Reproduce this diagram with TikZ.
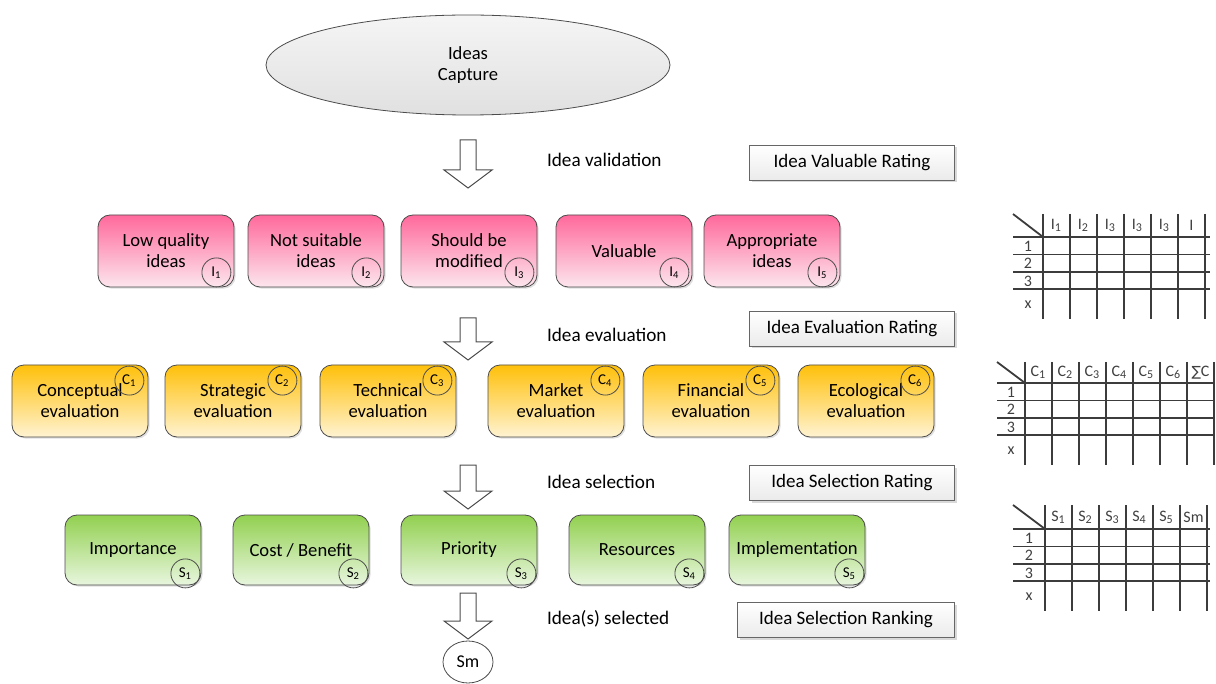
\documentclass[tikz,border=0pt]{standalone}
\usepackage{fontspec}
\setmainfont{Carlito}
\newfontfamily\symfont{DejaVu Sans}
\usetikzlibrary{shadows,shapes.geometric}
\definecolor{pinktop}{RGB}{255,105,155}
\definecolor{pinkbot}{RGB}{252,230,238}
\definecolor{orangetop}{RGB}{255,192,10}
\definecolor{orangebot}{RGB}{255,243,210}
\definecolor{greentop}{RGB}{146,208,80}
\definecolor{greenbot}{RGB}{232,246,222}
\definecolor{gridgray}{RGB}{60,60,60}
\tikzset{
  stagebox/.style = {draw=black!70, rounded corners=6pt, minimum width=68pt,
    minimum height=36pt, align=center, font=\fontsize{9.3}{10.5}\selectfont,
    drop shadow={opacity=0.25, shadow xshift=0.8pt, shadow yshift=-0.8pt}},
  pinkbox/.style = {stagebox, top color=pinktop, bottom color=pinkbot},
  orangebox/.style = {stagebox, top color=orangetop, bottom color=orangebot},
  greenbox/.style = {stagebox, minimum height=35pt, top color=greentop, bottom color=greenbot},
  tag/.style = {draw=black!70, circle, minimum size=14.5pt, inner sep=0pt,
    font=\fontsize{7.5}{8}\selectfont},
  ratebox/.style = {draw=black!60, minimum width=102.5pt, minimum height=17.5pt,
    top color=white, bottom color=black!8, font=\fontsize{9.5}{10}\selectfont,
    drop shadow={opacity=0.3, shadow xshift=1pt, shadow yshift=-1pt}},
  steptext/.style = {anchor=west, font=\fontsize{9.6}{10}\selectfont},
  blockarrow/.style = {draw=black!70, fill=white, line width=0.5pt},
  gridline/.style = {draw=gridgray, line width=0.9pt},
  celltext/.style = {inner sep=0pt, text=black!75, font=\fontsize{8}{9}\selectfont}
}
% prefix, left, first column, right end, top, header line, headers
\newcommand\ratetable[7]{%
  \draw[gridline] (#2,#5) -- (#3,#6);
  \foreach \k in {0,17.5,35,52} \draw[gridline] (#2,#6+\k) -- (#4,#6+\k);
  \draw[gridline] (#3,#5) -- (#3,#6+82);
  \foreach \h [count=\j] in {#7} {
    \draw[gridline] (#3+\j*27,#5) -- (#3+\j*27,#6+82);
    \node[celltext] (#1h\j) at (#3+\j*27-13.5,{(#5+#6)/2}) {\h};
  }
  \foreach \r/\k [count=\j] in {1/9,2/26.5,3/44,x/68}
    \node[celltext] (#1r\j) at ({(#2+#3)/2},#6+\k) {\r};
}

\begin{document}
\begin{tikzpicture}[x=0.5pt,y=-0.5pt]
  \useasboundingbox (0,0) rectangle (1216,684);

  \node[draw=black!70, ellipse, minimum width=202pt, minimum height=50pt,
    top color=black!4, bottom color=black!12, align=center,
    font=\fontsize{9.3}{10.5}\selectfont] (capture) at (468,65) {Ideas\\Capture};

  % hollow arrows between the stages
  \foreach \y/\l in {140/48, 318/42, 465/44, 593/46} {
    \draw[blockarrow] (460,\y) -- (476,\y) -- (476,\y+\l-18) -- (492,\y+\l-18)
      -- (468,\y+\l) -- (444,\y+\l-18) -- (460,\y+\l-18) -- cycle;
  }

  \node[steptext] (validation) at (540,160) {Idea validation};
  \node[steptext] (evaluation) at (540,335) {Idea evaluation};
  \node[steptext] (selection) at (540,482) {Idea selection};
  \node[steptext] (selected) at (540,619) {Idea(s) selected};

  \node[ratebox] (valrate) at (852,163) {Idea Valuable Rating};
  \node[ratebox] (evalrate) at (852,329) {Idea Evaluation Rating};
  \node[ratebox] (selrate) at (852,483) {Idea Selection Rating};
  \node[ratebox, minimum width=108.5pt] (selrank) at (846,620) {Idea Selection Ranking};

  % validation
  \foreach \x/\txt [count=\i] in {166/{Low quality\\ideas}, 316/{Not suitable\\ideas},
      469/{Should be\\modified}, 624/{Valuable}, 772/{Appropriate\\ideas}} {
    \node[pinkbox] (i\i) at (\x,251) {\txt};
    \node[tag] (i\i tag) at ([shift={(-9pt,7.5pt)}]i\i.south east) {I\textsubscript{\i}};
  }

  % evaluation
  \foreach \x/\txt [count=\i] in {80/Conceptual, 233/Strategic, 388/Technical,
      556/Market, 711/Financial, 866/Ecological} {
    \node[orangebox] (c\i) at (\x,401) {\txt\\evaluation};
    \node[tag] (c\i tag) at ([shift={(-9.5pt,-8pt)}]c\i.north east) {C\textsubscript{\i}};
  }

  % selection
  \foreach \x/\txt [count=\i] in {133/Importance, 301/{Cost / Benefit}, 469/Priority,
      637/Resources, 797/Implementation} {
    \node[greenbox] (s\i) at (\x,550) {\txt};
    \node[tag] (s\i tag) at ([shift={(-8pt,6pt)}]s\i.south east) {S\textsubscript{\i}};
  }

  \node[draw=black!70, ellipse, minimum width=25pt, minimum height=21pt, inner sep=0pt,
    font=\fontsize{9}{10}\selectfont] (sm) at (468,662) {Sm};

  % rating tables
  \ratetable{ta}{1013}{1043}{1210}{214}{237}{I\textsubscript{1},I\textsubscript{2},I\textsubscript{3},I\textsubscript{3},I\textsubscript{3},I}
  \ratetable{tb}{997}{1025}{1214}{362}{383}{C\textsubscript{1},C\textsubscript{2},C\textsubscript{3},C\textsubscript{4},C\textsubscript{5},C\textsubscript{6},{\symfont\fontsize{7}{8}\selectfont ∑}C}
  \ratetable{tc}{1013}{1045}{1210}{505}{529}{S\textsubscript{1},S\textsubscript{2},S\textsubscript{3},S\textsubscript{4},S\textsubscript{5},Sm}
\end{tikzpicture}
\end{document}
